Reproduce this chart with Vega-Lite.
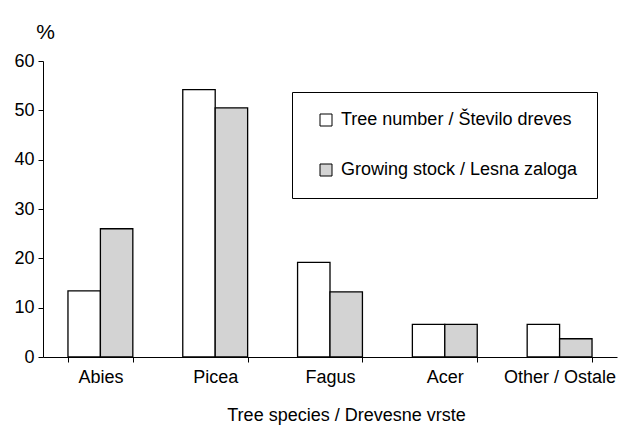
{
  "$schema": "https://vega.github.io/schema/vega-lite/v6.json",
  "autosize": "none",
  "width": 574,
  "height": 296,
  "padding": {"left": 43, "top": 61, "right": 13, "bottom": 68},
  "background": "white",
  "config": {
    "view": {"stroke": null},
    "font": "Liberation Sans",
    "axis": {"labelFont": "Liberation Sans", "titleFont": "Liberation Sans", "labelColor": "black", "titleColor": "black", "domainColor": "black", "tickColor": "black", "grid": false}
  },
  "data": {
    "values": [
      {"species": "Abies", "series": "Tree number / Število dreves", "value": 13.4},
      {"species": "Abies", "series": "Growing stock / Lesna zaloga", "value": 26.0},
      {"species": "Picea", "series": "Tree number / Število dreves", "value": 54.2},
      {"species": "Picea", "series": "Growing stock / Lesna zaloga", "value": 50.5},
      {"species": "Fagus", "series": "Tree number / Število dreves", "value": 19.2},
      {"species": "Fagus", "series": "Growing stock / Lesna zaloga", "value": 13.2},
      {"species": "Acer", "series": "Tree number / Število dreves", "value": 6.6},
      {"species": "Acer", "series": "Growing stock / Lesna zaloga", "value": 6.6},
      {"species": "Other / Ostale", "series": "Tree number / Število dreves", "value": 6.6},
      {"species": "Other / Ostale", "series": "Growing stock / Lesna zaloga", "value": 3.7}
    ]
  },
  "mark": {"type": "bar", "stroke": "black", "strokeWidth": 1.3},
  "encoding": {
    "x": {
      "field": "species", "type": "nominal", "sort": null,
      "scale": {"paddingInner": 0.435, "paddingOuter": 0.2175},
      "axis": {"title": "Tree species / Drevesne vrste", "titleX": 303, "labelAngle": 0, "labelFontSize": 18, "titleFontSize": 18, "titleFontWeight": "normal", "tickBand": "extent", "tickSize": 5, "labelPadding": 6, "titlePadding": 20, "domainWidth": 1, "tickWidth": 1}
    },
    "xOffset": {"field": "series", "type": "nominal", "sort": ["Tree number / Število dreves", "Growing stock / Lesna zaloga"], "scale": {"paddingInner": 0, "paddingOuter": 0}},
    "y": {
      "field": "value", "type": "quantitative",
      "scale": {"domain": [0, 60], "nice": false},
      "axis": {"values": [0, 10, 20, 30, 40, 50, 60], "title": "%", "titleAngle": 0, "titleX": 2, "titleY": -23, "titleAlign": "center", "titleBaseline": "alphabetic", "titleFontSize": 21, "titleFontWeight": "normal", "labelFontSize": 18, "tickSize": 5, "labelPadding": 4, "domainWidth": 1, "tickWidth": 1}
    },
    "fill": {
      "field": "series", "type": "nominal",
      "scale": {"domain": ["Tree number / Število dreves", "Growing stock / Lesna zaloga"], "range": ["white", "#d3d3d3"]},
      "legend": {"title": null, "orient": "none", "legendX": 249, "legendY": 31, "strokeColor": "black", "padding": 19, "symbolType": "square", "symbolSize": 144, "symbolStrokeColor": "black", "symbolStrokeWidth": 1, "labelFontSize": 18, "labelFont": "Liberation Sans", "labelColor": "black", "rowPadding": 32, "symbolOffset": 6, "labelOffset": 6, "labelLimit": 400}
    }
  }
}
